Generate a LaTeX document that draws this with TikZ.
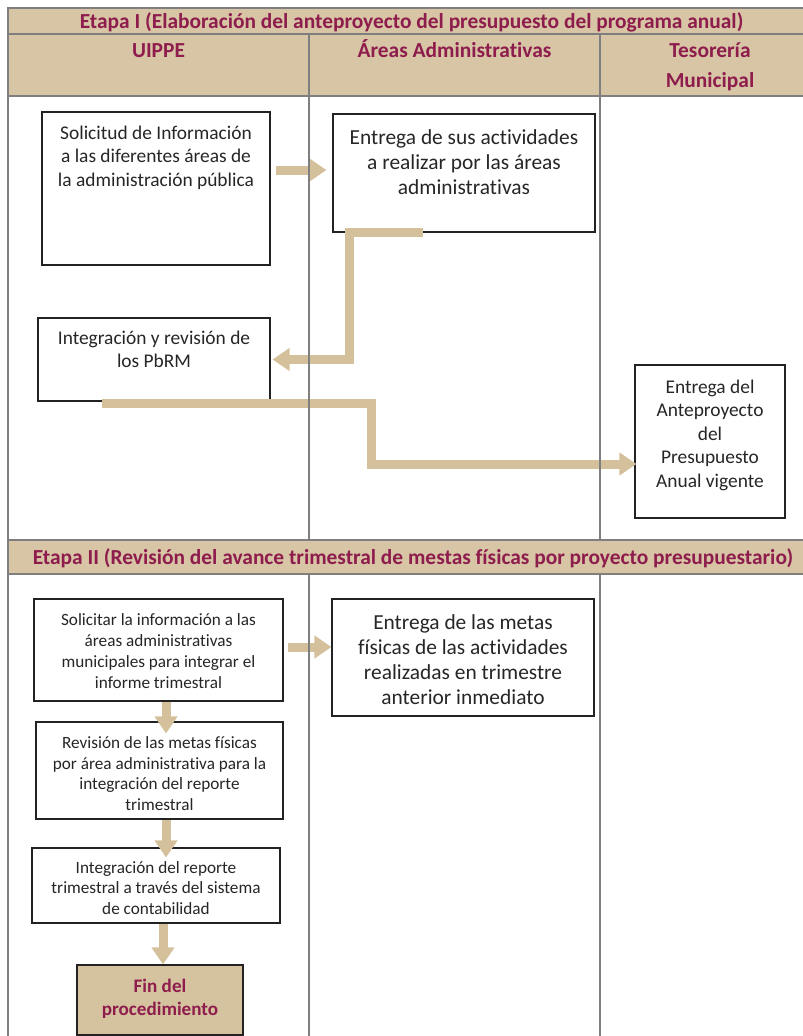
\documentclass[tikz,border=0pt]{standalone}
\usepackage{fontspec}
\setmainfont{Carlito}[Ligatures=NoCommon]
\usetikzlibrary{arrows.meta}
\definecolor{hdrfill}{HTML}{D7C5A5}
\definecolor{arrowc}{HTML}{D4C19C}
\definecolor{finfill}{HTML}{D5C3A0}
\definecolor{maroon}{HTML}{8E1C4C}
\definecolor{gridc}{HTML}{7F7F7F}
\definecolor{boxline}{HTML}{222222}
\begin{document}
\begin{tikzpicture}[x=1pt,y=-1pt,
  grid/.style={draw=gridc,line width=1.4pt},
  box/.style={draw=boxline,line width=1.1pt,fill=white,inner sep=0pt},
  txt/.style={inner sep=0pt,align=center,text=black!85},
  hdr/.style={inner sep=0pt,text=maroon,font=\fontsize{21.4}{25}\selectfont\bfseries},
  flow/.style={draw=arrowc,line width=9pt,line join=miter,-{Triangle[length=17pt,width=22pt]}}]
\useasboundingbox (0,0) rectangle (803,1036);
% header fills
\fill[hdrfill] (8,8) rectangle (803,96);
\fill[hdrfill] (8,540) rectangle (803,574);
% boxes
\node[box,minimum width=228pt,minimum height=153pt] (b1) at (156,188.5) {};
\node[box,minimum width=262pt,minimum height=118pt] (b2) at (464,173) {};
\node[box,minimum width=232pt,minimum height=83pt] (b3) at (154,359.5) {};
\node[box,minimum width=150pt,minimum height=153pt] (b4) at (710,441.5) {};
\node[box,minimum width=249pt,minimum height=102pt] (b5) at (158.5,650) {};
\node[box,minimum width=262pt,minimum height=117pt] (b8) at (463,657.5) {};
\node[box,minimum width=247pt,minimum height=97pt] (b6) at (159.5,770.5) {};
\node[box,minimum width=248pt,minimum height=75pt] (b7) at (156,885.5) {};
\node[box,fill=finfill,minimum width=166pt,minimum height=70pt] (fin) at (160,1000) {};
% connectors
\draw[flow] ([xshift=5pt,yshift=18.5pt]b1.east) -- ([xshift=-6pt,yshift=3pt]b2.west);
\draw[flow] ([xshift=-41pt]b2.south) -- ++(-74,0) |- ([xshift=2pt]b3.east);
\draw[flow] ([xshift=-52pt,yshift=-2pt]b3.south) -- ++(269,0) |- ([xshift=2pt,yshift=-22.5pt]b4.west);
\draw[flow] ([xshift=4pt,yshift=3pt]b5.east) -- ([yshift=10.5pt]b8.west);
\draw[flow] ([xshift=7.5pt]b5.south) -- ([xshift=6.5pt,yshift=-12pt]b6.north);
\draw[flow] ([xshift=6.5pt]b6.south) -- ([xshift=10pt,yshift=-10pt]b7.north);
\draw[flow] ([xshift=7pt]b7.south) -- ([xshift=3pt]fin.north);
% grid
\draw[grid] (803,8) -- (8,8) -- (8,1036);
\draw[grid] (8,34) -- (803,34);
\draw[grid] (8,96) -- (803,96);
\draw[grid] (8,540) -- (803,540);
\draw[grid] (8,574) -- (803,574);
\draw[grid] (309,34) -- (309,540);
\draw[grid] (600,34) -- (600,540);
\draw[grid] (309,574) -- (309,1036);
\draw[grid] (600,574) -- (600,1036);
% headers
\node[hdr,anchor=base] (h1) at (411.5,28) {Etapa I (Elaboración del anteproyecto del presupuesto del programa anual)};
\node[hdr,anchor=base] (c1) at (158.5,57.5) {UIPPE};
\node[hdr,anchor=base] (c2) at (454.5,57.5) {Áreas Administrativas};
\node[hdr,anchor=base] (c3) at (710,57.5) {Tesorería};
\node[hdr,anchor=base] (c3b) at (710,87.5) {Municipal};
\node[hdr,anchor=base] (h2) at (413,564) {Etapa II (Revisión del avance trimestral de mestas físicas por proyecto presupuestario)};
% texts
\node[txt,anchor=north,font=\fontsize{19.4}{23.5}\selectfont] (t1) at (156,122.4) {\strut Solicitud de Información\\a las diferentes áreas de\\la administración pública};
\node[txt,anchor=north,font=\fontsize{21.4}{25}\selectfont] (t2) at (464,126.9) {\strut Entrega de sus actividades\\a realizar por las áreas\\administrativas};
\node[txt,anchor=north,font=\fontsize{19.4}{23.5}\selectfont] (t3) at (154,327.4) {\strut Integración y revisión de\\los PbRM};
\node[txt,anchor=north,font=\fontsize{19.4}{23.5}\selectfont] (t4) at (710,376.4) {\strut Entrega del\\Anteproyecto\\del\\Presupuesto\\Anual vigente};
\node[txt,anchor=north,font=\fontsize{17.2}{21}\selectfont] (t5) at (158.5,610.5) {\strut Solicitar la información a las\\áreas administrativas\\municipales para integrar el\\informe trimestral};
\node[txt,anchor=north,font=\fontsize{21.4}{25}\selectfont] (t8) at (463,611.9) {\strut Entrega de las metas\\físicas de las actividades\\realizadas en trimestre\\anterior inmediato};
\node[txt,anchor=north,font=\fontsize{17.2}{20.7}\selectfont] (t6) at (159.5,733.7) {\strut Revisión de las metas físicas\\por área administrativa para la\\integración del reporte\\trimestral};
\node[txt,anchor=north,font=\fontsize{17.2}{20.5}\selectfont] (t7) at (156,858.8) {\strut Integración del reporte\\trimestral a través del sistema\\de contabilidad};
\node[txt,anchor=north,text=maroon,font=\fontsize{19.1}{23}\selectfont\bfseries] (t9) at (160,976.6) {\strut Fin del\\procedimiento};
\end{tikzpicture}
\end{document}
